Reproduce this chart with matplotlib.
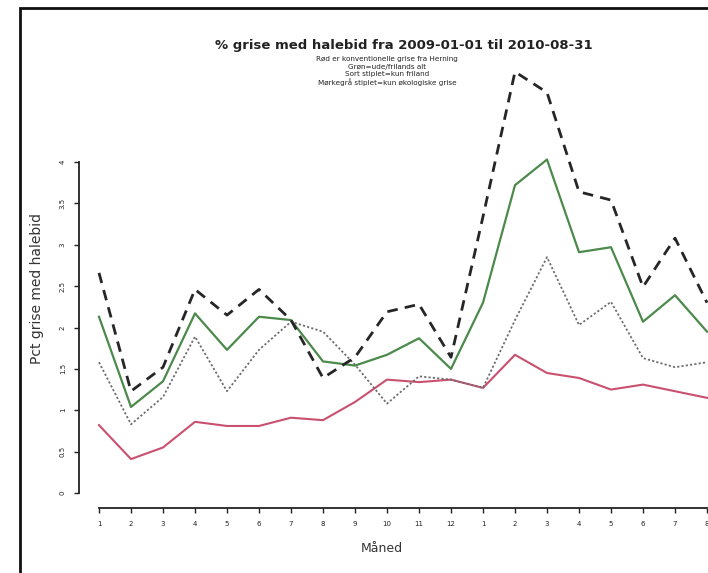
import matplotlib
matplotlib.use("Agg")
import matplotlib.pyplot as plt
from matplotlib.patches import Rectangle

months = ["1", "2", "3", "4", "5", "6", "7", "8", "9", "10", "11", "12",
          "1", "2", "3", "4", "5", "6", "7", "8"]
red_konv = [0.82, 0.41, 0.55, 0.86, 0.81, 0.81, 0.91, 0.88, 1.10, 1.37, 1.34, 1.37,
            1.27, 1.67, 1.45, 1.39, 1.25, 1.31, 1.23, 1.15]
green_ude = [2.13, 1.04, 1.35, 2.17, 1.73, 2.13, 2.09, 1.59, 1.54, 1.67, 1.87, 1.50,
             2.30, 3.72, 4.03, 2.91, 2.97, 2.07, 2.39, 1.95]
black_friland = [2.66, 1.23, 1.52, 2.46, 2.15, 2.46, 2.09, 1.39, 1.64, 2.19, 2.28, 1.64,
                 3.34, 5.09, 4.84, 3.64, 3.54, 2.49, 3.08, 2.30]
gray_oko = [1.58, 0.83, 1.16, 1.89, 1.23, 1.73, 2.07, 1.95, 1.55, 1.08, 1.41, 1.37,
            1.27, 2.09, 2.85, 2.03, 2.31, 1.63, 1.52, 1.58]
yticks = [0, 0.5, 1, 1.5, 2, 2.5, 3, 3.5, 4]
yticklabels = ["0", "0.5", "1", "1.5", "2", "2.5", "3", "3.5", "4"]

title = "% grise med halebid fra 2009-01-01 til 2010-08-31"
subtitle = ["Rød er konventionelle grise fra Herning",
            "Grøn=ude/frilands alt",
            "Sort stiplet=kun friland",
            "Mørkegrå stiplet=kun økologiske grise"]

W, H = 708, 573
fig = plt.figure(figsize=(W / 100, H / 100), dpi=100)
fig.patch.set_facecolor("white")

# outer frame of the photographed plot
fig.add_artist(Rectangle((20 / W, -0.05), 1.2, (573 - 8) / H + 0.05, transform=fig.transFigure,
                         fill=False, edgecolor="#111111", linewidth=2.0))

ax = fig.add_axes([99 / W, (H - 493) / H, 608 / W, (493 - 162) / H])
x = list(range(len(months)))

ax.plot(x, red_konv, color="#c9506f", lw=1.5, clip_on=False)
ax.plot(x, gray_oko, color="#6e6e6e", lw=1.3, linestyle=(0, (1.2, 1.2)), clip_on=False)
ax.plot(x, green_ude, color="#4b8a4b", lw=1.6, clip_on=False)
ax.plot(x, black_friland, color="#262626", lw=2.0, linestyle=(0, (3.8, 2.6)), clip_on=False)

ax.set_xlim(0, len(months) - 1)
ax.set_ylim(0, 4)
for s in ["top", "right"]:
    ax.spines[s].set_visible(False)
ax.spines["left"].set_position(("outward", 14.4))
ax.spines["bottom"].set_position(("outward", 10.8))
ax.spines["left"].set_bounds(0, 4)
ax.spines["bottom"].set_bounds(0, len(months) - 1)
ax.spines["left"].set_linewidth(1.3)
ax.spines["bottom"].set_linewidth(1.3)
ax.spines["left"].set_color("#222222")
ax.spines["bottom"].set_color("#222222")

ax.set_yticks(yticks)
ax.set_yticklabels(yticklabels, rotation=90, va="center", fontsize=5, color="#222222")
ax.set_xticks(x)
ax.set_xticklabels(months, fontsize=5, color="#222222")
ax.tick_params(axis="both", length=3.5, width=1.0, color="#222222", pad=6)

fig.text(37 / W, 1 - 288 / H, "Pct grise med halebid", rotation=90, ha="center", va="center",
         fontsize=10, color="#333333")
fig.text(382 / W, 1 - 548 / H, "Måned", ha="center", va="center", fontsize=9, color="#333333")

fig.text(404 / W, 1 - 45 / H, title, ha="center", va="center", fontsize=9.5,
         fontweight="bold", color="#222222")
for i, line in enumerate(subtitle):
    fig.text(387 / W, 1 - (59 + 7.6 * i) / H, line, ha="center", va="center",
             fontsize=5.2, color="#222222")

fig.savefig("out.png", dpi=100)
